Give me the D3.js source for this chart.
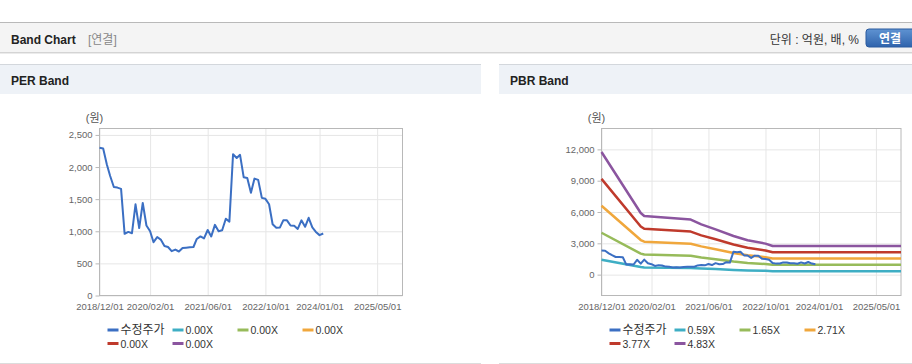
<!DOCTYPE html>
<html>
<head>
<meta charset="utf-8">
<script src="https://cdn.jsdelivr.net/npm/d3@7"></script>
<style>
  body { margin: 0; background: #fff; }
  svg { display: block; font-family: "Liberation Sans", "Noto Sans CJK KR", sans-serif; }
</style>
</head>
<body>
<div id="page"></div>
<script>
// ---- data ----
var domainDates = ["2018-12-01", "2025-12-01"];
var tickDates = ["2018-12-01", "2020-02-01", "2021-06-01", "2022-10-01", "2024-01-01", "2025-05-01"];

// 수정주가, monthly from 2018/12
var priceStart = "2018-12-01";
var price = [
  2300, 2290, 2040, 1860, 1690, 1680, 1660, 960, 990, 970, 1420, 1050,
  1440, 1090, 1000, 830, 910, 870, 770, 755, 690, 715, 685, 740,
  745, 750, 755, 880, 920, 890, 1020, 920, 1100, 1000, 1015, 1195,
  1150, 2200, 2140, 2190, 1840, 1830, 1600, 1820, 1800, 1520, 1505, 1420,
  1110, 1055, 1060, 1170, 1170, 1090, 1085, 1037, 1170, 1070, 1210, 1060,
  990, 940, 965
];
var pbrPriceCount = 61;

var perLabels = ["0.00X", "0.00X", "0.00X", "0.00X", "0.00X"];
var pbrLabels = ["0.59X", "1.65X", "2.71X", "3.77X", "4.83X"];

var bandDates = ["2018-12-01", "2019-11-01", "2019-12-01", "2021-01-01", "2021-04-01", "2021-08-01",
                 "2022-01-01", "2022-05-01", "2022-10-01", "2022-12-01", "2025-12-01"];
var pbr059 = [1435, 721, 687, 645, 589, 530, 452, 402, 363, 335, 335];
var pbr165 = [4014, 2016, 1921, 1803, 1647, 1483, 1264, 1124, 1015, 936, 936];
var pbr271 = [6593, 3312, 3154, 2962, 2705, 2436, 2076, 1846, 1667, 1537, 1537];
var pbr377 = [9172, 4607, 4388, 4121, 3762, 3389, 2888, 2567, 2319, 2138, 2138];
var pbr483 = [11750, 5900, 5620, 5280, 4820, 4340, 3700, 3290, 2970, 2740, 2740];

var perTicks = [0, 500, 1000, 1500, 2000, 2500];
var pbrTicks = [0, 3000, 6000, 9000, 12000];

var colors = ["#3b6fc3", "#3eaec4", "#97bb5a", "#f0a73c", "#bf3a2c", "#8b559f"];

// ---- helpers ----
var parseDate = d3.timeParse("%Y-%m-%d"),
    fmtTick = d3.timeFormat("%Y/%m/%d");

var W = 912, H = 364;

var svg = d3.select("#page").append("svg")
  .attr("width", W)
  .attr("height", H);

// Top bar
svg.append("rect").attr("x", 0).attr("y", 22).attr("width", W).attr("height", 31).attr("fill", "#f4f4f4");
svg.append("line").attr("x1", 0).attr("x2", W).attr("y1", 22.5).attr("y2", 22.5).attr("stroke", "#b9b9b9");
svg.append("line").attr("x1", 0).attr("x2", W).attr("y1", 52.5).attr("y2", 52.5).attr("stroke", "#d4d4d4");
svg.append("line").attr("x1", 0).attr("x2", W).attr("y1", 53.5).attr("y2", 53.5).attr("stroke", "#ebebeb");

svg.append("text").attr("x", 11).attr("y", 44)
  .attr("font-size", 12).attr("font-weight", "bold").attr("fill", "#222")
  .text("Band Chart");
svg.append("text").attr("x", 88).attr("y", 44)
  .attr("font-size", 12).attr("fill", "#888")
  .text("[연결]");
svg.append("text").attr("x", 859).attr("y", 44)
  .attr("font-size", 12).attr("fill", "#333").attr("text-anchor", "end")
  .text("단위 : 억원, 배, %");

var grad = svg.append("defs").append("linearGradient")
  .attr("id", "btn").attr("x1", 0).attr("x2", 0).attr("y1", 0).attr("y2", 1);
grad.append("stop").attr("offset", "0%").attr("stop-color", "#5f93d2");
grad.append("stop").attr("offset", "100%").attr("stop-color", "#2f63ac");
svg.append("rect").attr("x", 866).attr("y", 29).attr("width", 56).attr("height", 18)
  .attr("rx", 3).attr("fill", "url(#btn)").attr("stroke", "#2a5a9e");
svg.append("text").attr("x", 890).attr("y", 42.5).attr("text-anchor", "middle")
  .attr("font-size", 12).attr("font-weight", "bold").attr("fill", "#fff")
  .text("연결");

function bandchart(opt) {
  var left = opt.left, right = opt.right,
      top = 128.5, bottom = 295.5;

  // panel header
  svg.append("rect").attr("x", opt.px).attr("y", 64).attr("width", opt.pw).attr("height", 30).attr("fill", "#eef2f7");
  svg.append("line").attr("x1", opt.px).attr("x2", opt.px + opt.pw).attr("y1", 64.5).attr("y2", 64.5).attr("stroke", "#d3d7dc");
  svg.append("line").attr("x1", opt.px).attr("x2", opt.px + opt.pw).attr("y1", 363.5).attr("y2", 363.5).attr("stroke", "#dcdcdc");
  svg.append("text").attr("x", opt.px + 11).attr("y", 84.5)
    .attr("font-size", 12).attr("font-weight", "bold").attr("fill", "#222")
    .text(opt.title);

  var xScale = d3.scaleTime()
        .domain(domainDates.map(parseDate))
        .range([left, right]),
      yScale = d3.scaleLinear()
        .domain(opt.yDomain)
        .range([bottom, top]);

  var xt = tickDates.map(parseDate);

  // grid
  var gy = svg.append("g")
    .attr("transform", "translate(" + left + ",0)")
    .call(d3.axisLeft(yScale).tickValues(opt.yTicks).tickSize(-(right - left)).tickFormat(""));
  gy.select(".domain").remove();
  gy.selectAll("line").attr("stroke", "#e6e6e6");

  var gx = svg.append("g")
    .attr("transform", "translate(0," + bottom + ")")
    .call(d3.axisBottom(xScale).tickValues(xt).tickSize(-(bottom - top)).tickFormat(""));
  gx.select(".domain").remove();
  gx.selectAll("line").attr("stroke", "#e6e6e6");

  // frame
  svg.append("rect")
    .attr("x", left).attr("y", top)
    .attr("width", right - left).attr("height", bottom - top)
    .attr("fill", "none").attr("stroke", "#b8b8b8");

  // axes labels
  var ya = svg.append("g")
    .attr("transform", "translate(" + left + ",0)")
    .call(d3.axisLeft(yScale).tickValues(opt.yTicks).tickSize(4).tickPadding(3).tickFormat(d3.format(",")));
  ya.select(".domain").remove();
  ya.selectAll("line").attr("stroke", "#b8b8b8");
  ya.selectAll("text").attr("font-family", null).attr("font-size", 9.5).attr("fill", "#666");

  var xa = svg.append("g")
    .attr("transform", "translate(0," + bottom + ")")
    .call(d3.axisBottom(xScale).tickValues(xt).tickSize(0).tickPadding(8).tickFormat(fmtTick));
  xa.select(".domain").remove();
  xa.selectAll("text").attr("font-family", null).attr("font-size", 9.5).attr("fill", "#666");

  svg.append("text")
    .attr("x", left - 5).attr("y", 121.5)
    .attr("text-anchor", "middle")
    .attr("font-size", 11).attr("fill", "#555")
    .text("(원)");

  // lines
  var line = d3.line()
    .x(function(d) { return xScale(d.date); })
    .y(function(d) { return yScale(d.value); });

  var plot = svg.append("g");
  opt.bands.forEach(function(b, i) {
    if (b.length == 0) return;
    var pts = b.map(function(v, j) { return {date: parseDate(bandDates[j]), value: v}; });
    plot.append("path")
      .datum(pts)
      .attr("d", line)
      .attr("fill", "none")
      .attr("stroke", colors[i + 1])
      .attr("stroke-width", 2.5)
      .attr("stroke-linejoin", "round");
  });

  var start = parseDate(priceStart);
  var pts = price.slice(0, opt.priceCount).map(function(v, j) {
    return {date: d3.timeMonth.offset(start, j), value: v};
  });
  plot.append("path")
    .datum(pts)
    .attr("d", line)
    .attr("fill", "none")
    .attr("stroke", colors[0])
    .attr("stroke-width", 2)
    .attr("stroke-linejoin", "round");

  // legend
  var keys = ["수정주가"].concat(opt.labels);
  var legend = svg.append("g").selectAll("g")
    .data(keys)
    .enter().append("g")
      .attr("transform", function(d, i) {
        return "translate(" + (left + 8 + (i % 4) * 65) + "," + (330 + Math.floor(i / 4) * 13.5) + ")";
      });
  legend.append("line")
    .attr("x1", 0).attr("x2", 11)
    .attr("stroke", function(d, i) { return colors[i]; })
    .attr("stroke-width", 3);
  legend.append("text")
    .attr("x", 13).attr("y", 4)
    .attr("font-size", function(d, i) { return i == 0 ? 12 : 10.5; })
    .attr("fill", "#333")
    .text(function(d) { return d; });
}

bandchart({
  title: "PER Band", px: 0, pw: 481,
  left: 99.5, right: 402.5,
  yDomain: [0, 2600], yTicks: perTicks,
  labels: perLabels,
  bands: [[], [], [], [], []],
  priceCount: price.length
});

bandchart({
  title: "PBR Band", px: 499, pw: 413,
  left: 601.5, right: 901,
  yDomain: [-2000, 14000], yTicks: pbrTicks,
  labels: pbrLabels,
  bands: [pbr059, pbr165, pbr271, pbr377, pbr483],
  priceCount: pbrPriceCount
});
</script>
</body>
</html>
